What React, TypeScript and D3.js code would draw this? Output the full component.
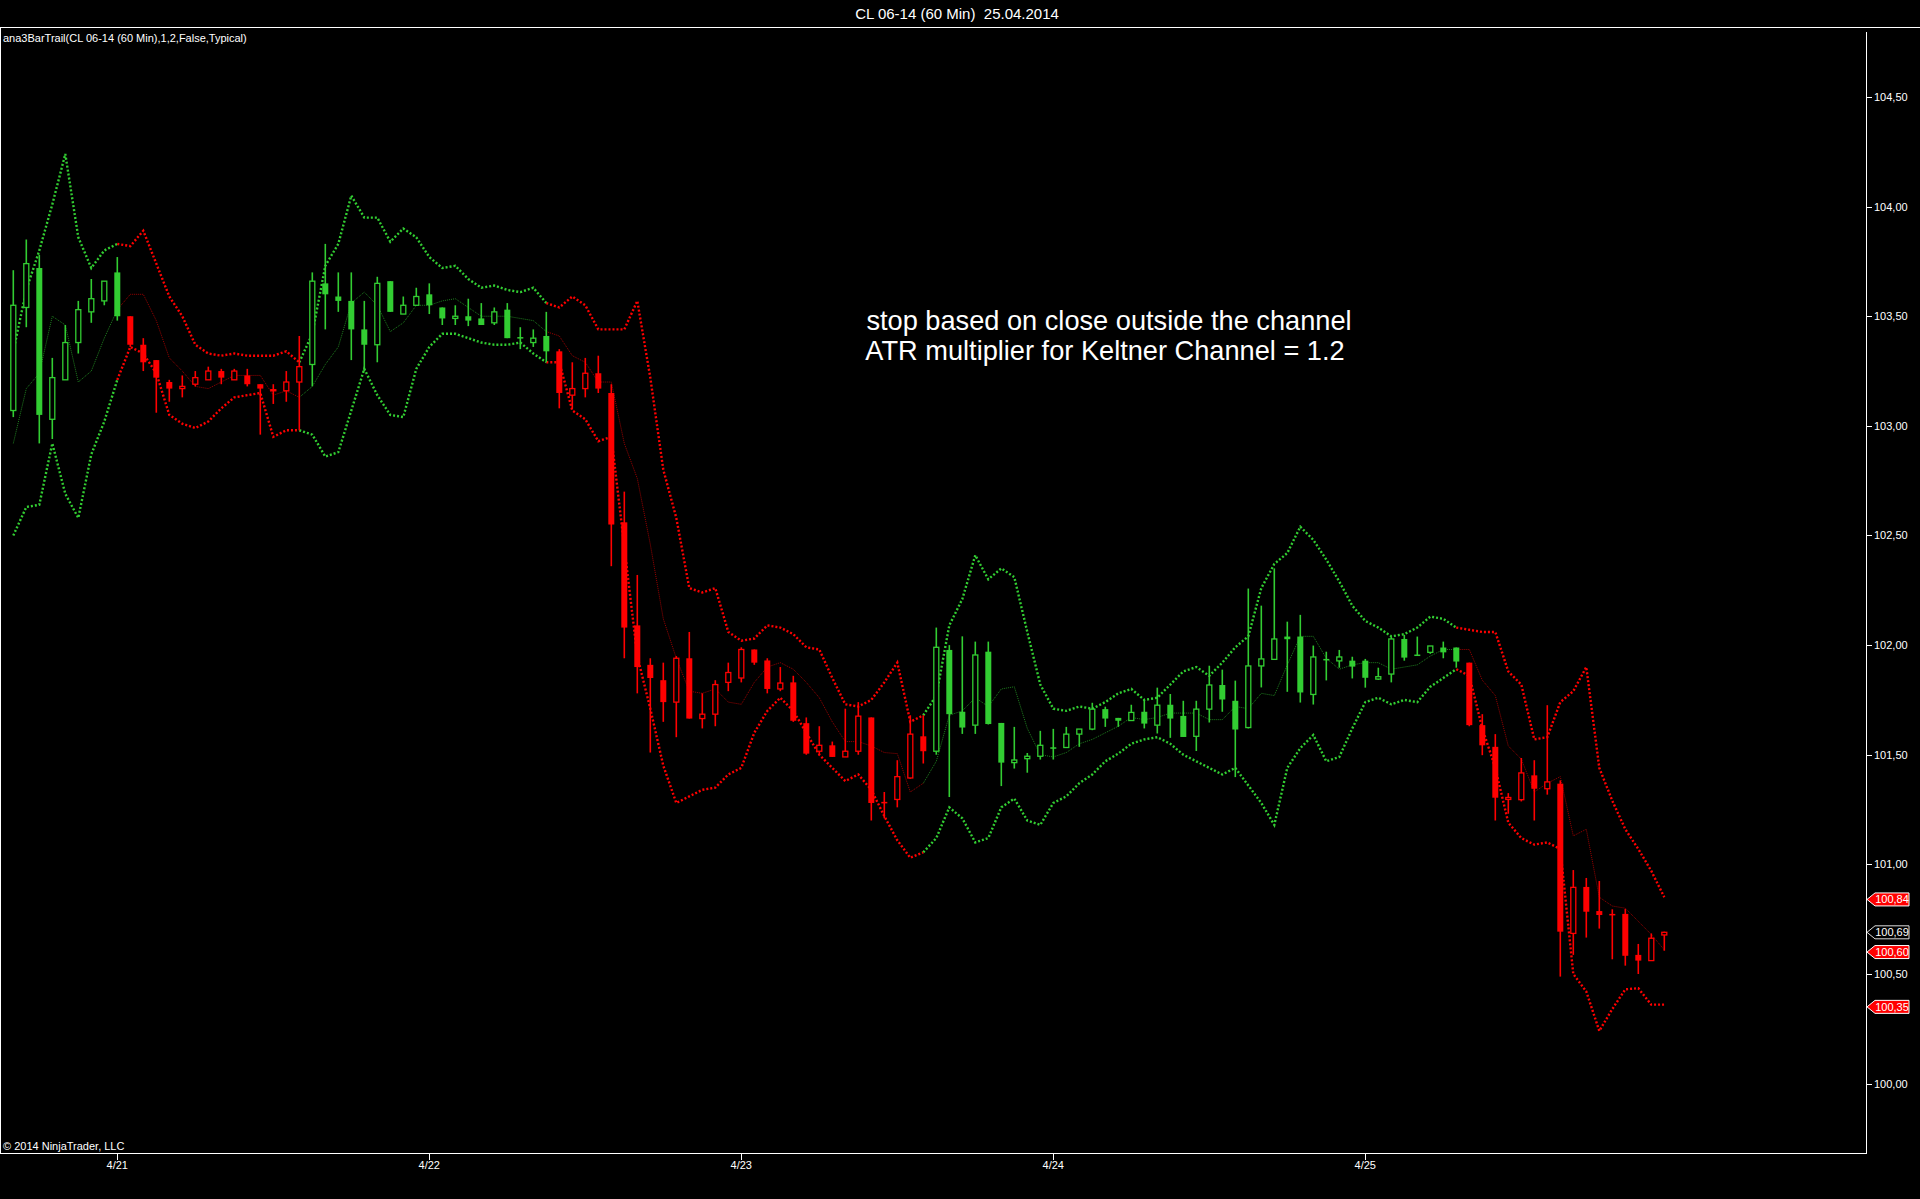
import * as d3 from "d3";

// hourly bars, CL 06-14, 4/20 evening .. 4/25
const opens = [
  103.07, 103.54, 103.72, 103.03, 103.21, 103.38, 103.52, 103.57, 103.7, 103.5,
  103.37, 103.3, 103.2, 103.17, 103.19, 103.21, 103.25, 103.21, 103.23, 103.19,
  103.16, 103.16, 103.2, 103.28, 103.65, 103.59, 103.57, 103.44, 103.37, 103.66,
  103.51, 103.55, 103.6, 103.54, 103.49, 103.5, 103.49, 103.47, 103.53, 103.405,
  103.38, 103.41, 103.34, 103.14, 103.17, 103.24, 103.15, 102.56, 102.09, 101.91,
  101.84, 101.74, 101.94, 101.665, 101.685, 101.83, 101.85, 101.98, 101.93, 101.8,
  101.83, 101.644, 101.516, 101.543, 101.49, 101.516, 101.67, 101.285, 101.296, 101.394,
  101.584, 101.516, 101.978, 101.696, 101.635, 101.97, 101.645, 101.464, 101.482, 101.493,
  101.534, 101.533, 101.594, 101.617, 101.708, 101.668, 101.656, 101.696, 101.635, 101.728,
  101.677, 101.584, 101.708, 101.818, 101.746, 101.624, 101.905, 101.935, 102.039, 102.039,
  101.775, 101.937, 101.928, 101.929, 101.929, 101.845, 101.868, 102.028, 101.957, 101.967,
  101.989, 101.989, 101.92, 101.635, 101.536, 101.296, 101.295, 101.406, 101.345, 101.368,
  100.685, 100.897, 100.787, 100.774, 100.774, 100.587, 100.561, 100.678,
];
const highs = [
  103.71, 103.85, 103.78, 103.31, 103.46, 103.57, 103.67, 103.66, 103.77, 103.5,
  103.4, 103.3, 103.21, 103.23, 103.25, 103.27, 103.26, 103.26, 103.26, 103.19,
  103.19, 103.25, 103.41, 103.7, 103.83, 103.7, 103.7, 103.57, 103.68, 103.66,
  103.59, 103.63, 103.65, 103.54, 103.55, 103.58, 103.56, 103.54, 103.56, 103.45,
  103.44, 103.52, 103.35, 103.29, 103.31, 103.32, 103.19, 102.7, 102.32, 101.94,
  101.92, 101.95, 102.06, 101.78, 101.84, 101.92, 101.99, 101.98, 101.94, 101.9,
  101.86, 101.67, 101.63, 101.56, 101.71, 101.74, 101.67, 101.33, 101.475, 101.68,
  101.68, 102.08, 102.0, 102.04, 102.016, 102.016, 101.645, 101.627, 101.508, 101.609,
  101.618, 101.627, 101.617, 101.737, 101.719, 101.668, 101.728, 101.752, 101.806, 101.777,
  101.746, 101.746, 101.906, 101.888, 101.838, 102.258, 102.18, 102.35, 102.107, 102.138,
  101.998, 101.97, 101.978, 101.947, 101.937, 101.897, 102.039, 102.047, 102.039, 101.996,
  102.016, 101.989, 101.92, 101.685, 101.594, 101.325, 101.485, 101.475, 101.726, 101.383,
  100.974, 100.938, 100.924, 100.795, 100.796, 100.637, 100.685, 100.693,
];
const lows = [
  103.04, 103.45, 102.92, 102.94, 103.21, 103.33, 103.47, 103.55, 103.48, 103.36,
  103.25, 103.06, 103.11, 103.13, 103.18, 103.21, 103.19, 103.21, 103.18, 102.96,
  103.1, 103.11, 102.98, 103.18, 103.44, 103.52, 103.3, 103.25, 103.29, 103.52,
  103.51, 103.55, 103.51, 103.46, 103.46, 103.455, 103.46, 103.46, 103.4, 103.35,
  103.36, 103.29, 103.08, 103.08, 103.13, 103.15, 102.36, 101.94, 101.78, 101.51,
  101.65, 101.58, 101.665, 101.62, 101.63, 101.79, 101.83, 101.91, 101.78, 101.79,
  101.65, 101.5, 101.5, 101.49, 101.49, 101.5, 101.2, 101.21, 101.26, 101.39,
  101.46, 101.5, 101.307, 101.595, 101.595, 101.638, 101.357, 101.437, 101.418, 101.478,
  101.478, 101.533, 101.536, 101.612, 101.627, 101.627, 101.655, 101.62, 101.597, 101.577,
  101.581, 101.517, 101.647, 101.696, 101.398, 101.62, 101.807, 101.935, 101.787, 101.738,
  101.729, 101.839, 101.897, 101.848, 101.806, 101.841, 101.83, 101.929, 101.955, 101.96,
  101.94, 101.897, 101.63, 101.498, 101.2, 101.231, 101.287, 101.2, 101.318, 100.488,
  100.587, 100.666, 100.707, 100.567, 100.538, 100.5, 100.561, 100.606,
];
const closes = [
  103.55, 103.74, 103.05, 103.22, 103.38, 103.53, 103.58, 103.66, 103.5, 103.37,
  103.29, 103.22, 103.17, 103.18, 103.22, 103.25, 103.22, 103.25, 103.19, 103.17,
  103.165, 103.2, 103.27, 103.66, 103.6, 103.57, 103.44, 103.37, 103.65, 103.52,
  103.55, 103.59, 103.55, 103.49, 103.5, 103.48, 103.46, 103.52, 103.4, 103.4,
  103.4, 103.34, 103.15, 103.17, 103.24, 103.17, 102.55, 102.08, 101.9, 101.85,
  101.74, 101.94, 101.665, 101.685, 101.82, 101.875, 101.98, 101.92, 101.8, 101.827,
  101.655, 101.505, 101.543, 101.49, 101.516, 101.676, 101.28, 101.28, 101.4, 101.594,
  101.516, 101.99, 101.685, 101.624, 101.955, 101.64, 101.464, 101.476, 101.493, 101.543,
  101.531, 101.594, 101.617, 101.708, 101.665, 101.655, 101.693, 101.642, 101.726, 101.665,
  101.581, 101.708, 101.818, 101.752, 101.615, 101.905, 101.937, 102.028, 102.027, 101.784,
  101.946, 101.934, 101.946, 101.902, 101.851, 101.856, 102.028, 101.943, 101.955, 101.996,
  101.967, 101.925, 101.635, 101.543, 101.304, 101.305, 101.417, 101.345, 101.376, 100.693,
  100.895, 100.784, 100.769, 100.772, 100.583, 100.561, 100.663, 100.69,
];

// channel (upper / middle / lower)
const upper = [
  103.34, 103.62, 103.8, 104.01, 104.24, 103.86, 103.72, 103.8, 103.83, 103.82,
  103.89, 103.74, 103.59, 103.5, 103.37, 103.33, 103.32, 103.33, 103.32, 103.32,
  103.32, 103.34, 103.29, 103.42, 103.73, 103.83, 104.05, 103.95, 103.95, 103.84,
  103.9, 103.86, 103.77, 103.72, 103.73, 103.67, 103.63, 103.64, 103.62, 103.61,
  103.63, 103.56, 103.54, 103.59, 103.55, 103.44, 103.44, 103.44, 103.57, 103.22,
  102.8, 102.58, 102.26, 102.24, 102.26, 102.06, 102.02, 102.03, 102.09, 102.08,
  102.05, 101.99, 101.98, 101.85, 101.73, 101.72, 101.75, 101.83, 101.92, 101.65,
  101.68, 101.77, 102.09, 102.21, 102.41, 102.3, 102.35, 102.31, 102.06, 101.82,
  101.71, 101.7, 101.72, 101.71, 101.74, 101.78, 101.8, 101.75, 101.76, 101.82,
  101.88, 101.9, 101.86, 101.92, 101.99, 102.04, 102.26, 102.37, 102.42, 102.54,
  102.48, 102.39, 102.29, 102.18, 102.11, 102.08, 102.04, 102.05, 102.08, 102.13,
  102.12, 102.08, 102.07, 102.06, 102.06, 101.88, 101.82, 101.57, 101.58, 101.74,
  101.79, 101.9, 101.44, 101.29, 101.16, 101.07, 100.97, 100.85,
];
const middle = [
  102.92, 103.17, 103.24, 103.5, 103.46, 103.2, 103.25, 103.4, 103.53, 103.6,
  103.6, 103.48, 103.31, 103.25, 103.18, 103.17, 103.2, 103.23, 103.23, 103.23,
  103.14, 103.16, 103.13, 103.18, 103.28, 103.36, 103.56, 103.61, 103.55, 103.43,
  103.47, 103.55, 103.55, 103.57, 103.58, 103.54, 103.5, 103.5, 103.5, 103.49,
  103.48, 103.43, 103.41, 103.32, 103.29, 103.2, 103.2, 102.92, 102.76, 102.46,
  102.12, 101.94, 101.79, 101.78, 101.8, 101.74, 101.73, 101.83, 101.9, 101.92,
  101.89, 101.83, 101.76, 101.65, 101.56, 101.56, 101.54, 101.51, 101.505, 101.33,
  101.37, 101.47, 101.68, 101.7, 101.76, 101.72, 101.8, 101.81, 101.62, 101.5,
  101.49, 101.51, 101.55, 101.57, 101.6, 101.63, 101.67, 101.66, 101.67, 101.69,
  101.69, 101.69, 101.66, 101.66, 101.72, 101.71, 101.78, 101.77, 101.91, 102.04,
  102.04, 101.94, 101.89, 101.91, 101.92, 101.92, 101.89, 101.9, 101.91, 101.95,
  101.98, 101.98, 101.98, 101.84, 101.77, 101.54, 101.48, 101.33, 101.37, 101.4,
  101.13, 101.16, 100.85, 100.81, 100.8, 100.74, 100.68, 100.61,
];
const lower = [
  102.5, 102.63, 102.64, 102.92, 102.69, 102.58, 102.87, 103.02, 103.21, 103.36,
  103.33, 103.24, 103.05, 103.01, 102.99, 103.02, 103.08, 103.13, 103.14, 103.15,
  102.95, 102.98, 102.98, 102.96, 102.86, 102.88, 103.07, 103.26, 103.14, 103.05,
  103.04, 103.26, 103.36, 103.42, 103.42, 103.4, 103.38, 103.37, 103.37, 103.38,
  103.33, 103.29, 103.29, 103.07, 103.03, 102.93, 102.95, 102.45, 101.95, 101.71,
  101.45, 101.28, 101.31, 101.34, 101.35, 101.41, 101.44, 101.6, 101.7, 101.76,
  101.7, 101.6, 101.5, 101.44, 101.38, 101.41, 101.34, 101.22, 101.11, 101.03,
  101.055, 101.12, 101.26, 101.21, 101.1, 101.12, 101.26, 101.3, 101.2, 101.18,
  101.28, 101.31, 101.37, 101.41, 101.47, 101.505, 101.55, 101.57, 101.58, 101.55,
  101.5, 101.47, 101.44, 101.41, 101.44, 101.36, 101.28, 101.18, 101.44, 101.53,
  101.59, 101.47, 101.49, 101.62, 101.74, 101.76, 101.73, 101.75, 101.74, 101.81,
  101.85, 101.89, 101.86, 101.62, 101.44, 101.19, 101.12, 101.09, 101.1, 101.07,
  100.5, 100.42, 100.24, 100.34, 100.43, 100.435, 100.36, 100.36,
];

// trend runs: first bar of each run and its direction (1 up / -1 down)
const runStarts = [0, 9, 23, 42, 71, 112];
const runDirs = [1, -1, 1, -1, 1, -1];

const dayLabels = ["4/21", "4/22", "4/23", "4/24", "4/25"];
const dayBars = [8, 32, 56, 80, 104];

const priceTicks = [100, 100.5, 101, 101.5, 102, 102.5, 103, 103.5, 104, 104.5];

const tagValues = [100.84, 100.69, 100.6, 100.35];
const tagKinds = ["band", "close", "band", "band"];

const W = 1920;
const H = 1199;
const AXIS_X = 1866;
const TOP = 27;
const BOTTOM = 1153;
const FONT = "'Liberation Sans', Arial, sans-serif";
const GREEN = "#32cd32";
const RED = "#ff0000";

const App = () => {
  const n = closes.length;
  const x = d3.scaleLinear().domain([0, n - 1]).range([13.3, 13.3 + 13 * (n - 1)]);
  const y = d3.scaleLinear().domain([100, 104.5]).range([1083.6, 97]);
  const fmt = (v: number) => d3.format(".2f")(v).replace(".", ",");

  const trendAt = (i: number) => {
    let d = runDirs[0];
    runStarts.forEach((s, k) => {
      if (i >= s) d = runDirs[k];
    });
    return d;
  };

  const runs = runStarts.map((s, k) => {
    const end = k + 1 < runStarts.length ? runStarts[k + 1] - 1 : n - 1;
    return { from: Math.max(0, s - 1), to: end, dir: runDirs[k] };
  });

  const linePath = (arr: number[], from: number, to: number) =>
    d3
      .line<number>()
      .x((i) => x(i))
      .y((i) => y(arr[i]))(d3.range(from, to + 1)) || "";

  return (
    <div style={{ position: "fixed", left: 0, top: 0, width: W, height: H, background: "#000" }}>
      <svg width={W} height={H} style={{ display: "block" }} fontFamily={FONT}>
        <rect width={W} height={H} fill="#000" />

        {/* title */}
        <text x={957} y={19} fill="#fff" fontSize={15} textAnchor="middle" style={{ whiteSpace: "pre" }}>
          {"CL 06-14 (60 Min)  25.04.2014"}
        </text>
        <line x1={0} x2={W} y1={TOP + 0.5} y2={TOP + 0.5} stroke="#fff" strokeWidth={1} />
        <line x1={0.5} x2={0.5} y1={TOP} y2={BOTTOM} stroke="#fff" strokeWidth={1} />

        <text x={3} y={42} fill="#fff" fontSize={11}>
          ana3BarTrail(CL 06-14 (60 Min),1,2,False,Typical)
        </text>

        {/* channel */}
        {runs.map((r, k) => (
          <g key={k}>
            <path
              d={linePath(middle, r.from, r.to)}
              fill="none"
              stroke={r.dir > 0 ? "#1f7f1f" : "#9a0000"}
              strokeWidth={1}
              strokeDasharray="1 1"
            />
            <path
              d={linePath(upper, r.from, r.to)}
              fill="none"
              stroke={r.dir > 0 ? GREEN : RED}
              strokeWidth={2.4}
              strokeDasharray="2 2"
            />
            <path
              d={linePath(lower, r.from, r.to)}
              fill="none"
              stroke={r.dir > 0 ? GREEN : RED}
              strokeWidth={2.4}
              strokeDasharray="2 2"
            />
          </g>
        ))}

        {/* candles */}
        {closes.map((c, i) => {
          const o = opens[i];
          const col = trendAt(i) > 0 ? GREEN : RED;
          const cx = x(i);
          const top = y(Math.max(o, c));
          const bot = y(Math.min(o, c));
          const hollow = c > o;
          return (
            <g key={i}>
              <line x1={cx} x2={cx} y1={y(highs[i])} y2={y(lows[i])} stroke={col} strokeWidth={1.6} />
              {hollow ? (
                <rect x={cx - 2.5} y={top} width={5} height={Math.max(1, bot - top)} fill="#000" stroke={col} strokeWidth={1.3} />
              ) : (
                <rect x={cx - 3} y={top} width={6} height={Math.max(1.5, bot - top)} fill={col} />
              )}
            </g>
          );
        })}

        <text x={1109} y={330} fill="#fff" fontSize={27.2} textAnchor="middle">
          stop based on close outside the channel
        </text>
        <text x={1105} y={360} fill="#fff" fontSize={27.2} textAnchor="middle">
          ATR multiplier for Keltner Channel = 1.2
        </text>

        {/* price axis */}
        <line x1={AXIS_X + 0.5} x2={AXIS_X + 0.5} y1={32} y2={BOTTOM} stroke="#fff" strokeWidth={1} />
        {priceTicks.map((p) => (
          <g key={p}>
            <line x1={AXIS_X} x2={AXIS_X + 6} y1={Math.round(y(p)) + 0.5} y2={Math.round(y(p)) + 0.5} stroke="#fff" />
            <text x={AXIS_X + 8} y={y(p) + 4} fill="#fff" fontSize={11}>
              {fmt(p)}
            </text>
          </g>
        ))}

        {tagValues.map((v, k) => {
          const ty = y(v);
          const isBand = tagKinds[k] === "band";
          const d = `M${AXIS_X + 1},${ty} L${AXIS_X + 9},${ty - 6.5} L${AXIS_X + 43},${ty - 6.5} L${AXIS_X + 43},${ty + 6.5} L${AXIS_X + 9},${ty + 6.5} Z`;
          return (
            <g key={k}>
              <path d={d} fill={isBand ? RED : "#000"} stroke={isBand ? "#fff" : "#ddd"} strokeWidth={1} />
              <text x={AXIS_X + 26} y={ty + 4} fill="#fff" fontSize={11} textAnchor="middle">
                {fmt(v)}
              </text>
            </g>
          );
        })}

        {/* time axis */}
        <line x1={0} x2={AXIS_X + 1} y1={BOTTOM + 0.5} y2={BOTTOM + 0.5} stroke="#fff" strokeWidth={1} />
        <text x={3} y={1150} fill="#fff" fontSize={11}>
          © 2014 NinjaTrader, LLC
        </text>
        {dayBars.map((b, k) => (
          <g key={b}>
            <line x1={Math.round(x(b)) + 0.5} x2={Math.round(x(b)) + 0.5} y1={BOTTOM} y2={BOTTOM + 7} stroke="#fff" />
            <text x={x(b)} y={1169} fill="#fff" fontSize={11} textAnchor="middle">
              {dayLabels[k]}
            </text>
          </g>
        ))}
      </svg>
    </div>
  );
};

export default App;
